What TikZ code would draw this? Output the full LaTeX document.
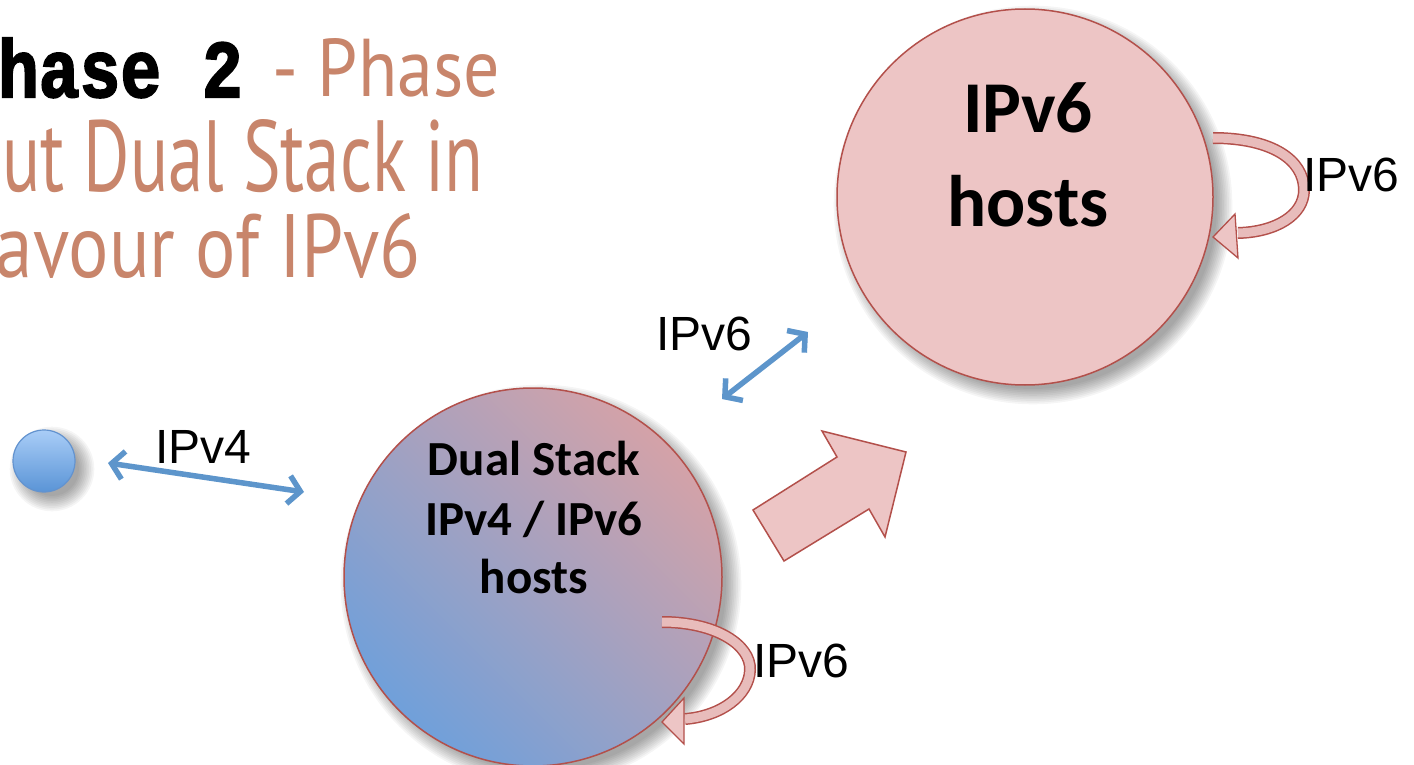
\documentclass[tikz,border=0pt]{standalone}
\usepackage{fontspec}
\usepackage{graphicx}
\usetikzlibrary{arrows.meta}
\newfontfamily\carlito{Carlito}
\newfontfamily\arialf{Liberation Sans}
\newfontfamily\monof{Liberation Mono}[FakeBold=2.5]
\newfontfamily\handf{PT Sans}
\definecolor{handcol}{HTML}{C8856B}
\definecolor{rededge}{HTML}{B3504B}
\definecolor{pinkfill}{HTML}{EDC5C5}
\definecolor{arrowblue}{HTML}{5D95CB}
\definecolor{blueedge}{HTML}{6393CF}
\definecolor{bluetop}{HTML}{A9CDF7}
\definecolor{bluebot}{HTML}{5A94D6}
\definecolor{dualpink}{HTML}{D4A2A8}
\definecolor{dualmid}{HTML}{B0A5C0}
\definecolor{dualblue}{HTML}{70A0DA}
\newcommand\softshadow[3]{%
  \foreach \k in {0,...,9}{%
    \pgfmathsetmacro\rr{#3-4+\k*1.7}%
    \fill[black, opacity=0.04] (#1+8,#2+8) circle[radius=\rr pt];}}
\tikzset{
  lbl/.style={font=\arialf\fontsize{48}{48}\selectfont, inner sep=0, anchor=base west},
  boldtxt/.style={inner sep=0, anchor=base},
  hostcircle/.style={circle, inner sep=0, draw=rededge, line width=1.5pt},
  bluearrow/.style={draw=arrowblue, line width=5.5pt,
    {Straight Barb[length=12pt,width=28pt]}-{Straight Barb[length=12pt,width=28pt]}},
  bandout/.style={draw=rededge, line width=12pt},
  bandin/.style={draw=pinkfill!92!rededge, line width=9pt},
  headstyle/.style={fill=pinkfill, draw=rededge, line width=1.3pt, line join=miter}
}
\begin{document}
\begin{tikzpicture}[x=1pt,y=-1pt]
\useasboundingbox (0,0) rectangle (1414,765);
\clip (0,0) rectangle (1414,765);
\fill[white] (0,0) rectangle (1414,765);

% title
\node[anchor=base west, inner sep=0, font=\monof\bfseries\fontsize{68}{68}\selectfont] (ttl) at (-43,97) {\scalebox{1}[1.2]{Phase 2}};
\node[anchor=base east, inner sep=0, text=handcol] (h1) at (500,97) {\resizebox{227pt}{58pt}{\handf - Phase}};
\node[anchor=base east, inner sep=0, text=handcol] (h2) at (483,191) {\resizebox{518pt}{72pt}{\handf out Dual Stack in}};
\node[anchor=base east, inner sep=0, text=handcol] (h3) at (421,277) {\resizebox{449pt}{64pt}{\handf favour of IPv6}};

% shadows
\softshadow{44}{461}{31}
\softshadow{533}{577}{189}
\softshadow{1025}{197}{188}

% circles
\node[circle, inner sep=0, minimum size=62pt, draw=blueedge, line width=1.2pt,
      top color=bluetop, bottom color=bluebot] (v4host) at (44,461) {};
\node[hostcircle, minimum size=378pt, top color=dualpink, middle color=dualmid,
      bottom color=dualblue, shading angle=-45] (dual) at (533,577) {};
\node[hostcircle, minimum size=376pt, fill=pinkfill] (v6host) at (1025,197) {};

% circle texts
\node[boldtxt, font=\carlito\bfseries\fontsize{49}{49}\selectfont] (d1) at (534,475) {Dual Stack};
\node[boldtxt, font=\carlito\bfseries\fontsize{49}{49}\selectfont] (d2) at (534,535) {IPv4 / IPv6};
\node[boldtxt, font=\carlito\bfseries\fontsize{49}{49}\selectfont] (d3) at (534,593) {hosts};
\node[boldtxt, font=\carlito\bfseries\fontsize{73}{73}\selectfont] (t1) at (1028,133) {IPv6};
\node[boldtxt, font=\carlito\bfseries\fontsize{73}{73}\selectfont] (t2) at (1028,226) {hosts};

% big block arrow
\filldraw[fill=pinkfill, draw=rededge, line width=1.5pt, line join=miter]
  (753,510) -- (837,457) -- (822,431) -- (906,452) -- (885,537) -- (869,509) -- (784,561) -- cycle;

% blue double arrows
\coordinate (a4s) at (108,463);
\coordinate (a4e) at (304,492);
\coordinate (a6s) at (722,399);
\coordinate (a6e) at (808,332);
\draw[bluearrow] (a4s) -- (a4e);
\draw[bluearrow] (a6s) -- (a6e);

% loop arrow on IPv6 hosts
\coordinate (ls1) at (1213,138);
\coordinate (le1) at (1238,233);
\draw[bandout] (ls1) .. controls (1272,138) and (1304,160) .. (1304,190) .. controls (1304,215) and (1276,232) .. (le1);
\draw[bandin] (ls1) .. controls (1272,138) and (1304,160) .. (1304,190) .. controls (1304,215) and (1276,232) .. (le1);
\filldraw[headstyle] (1213,237) -- (1235,214) -- (1238,258) -- cycle;

% loop arrow on dual stack
\coordinate (ls2) at (662,622);
\coordinate (le2) at (685,719);
\draw[bandout] (ls2) .. controls (716,622) and (751,645) .. (750,670) .. controls (749,695) and (722,716) .. (le2);
\draw[bandin] (ls2) .. controls (716,622) and (751,645) .. (750,670) .. controls (749,695) and (722,716) .. (le2);
\filldraw[headstyle] (662,722) -- (684,698) -- (684,744) -- cycle;

% labels
\node[lbl] (l4) at (155,463) {IPv4};
\node[lbl] (l6m) at (656,350) {IPv6};
\node[lbl] (l6d) at (753,677) {IPv6};
\node[lbl] (l6h) at (1303,192) {IPv6};
\end{tikzpicture}
\end{document}
